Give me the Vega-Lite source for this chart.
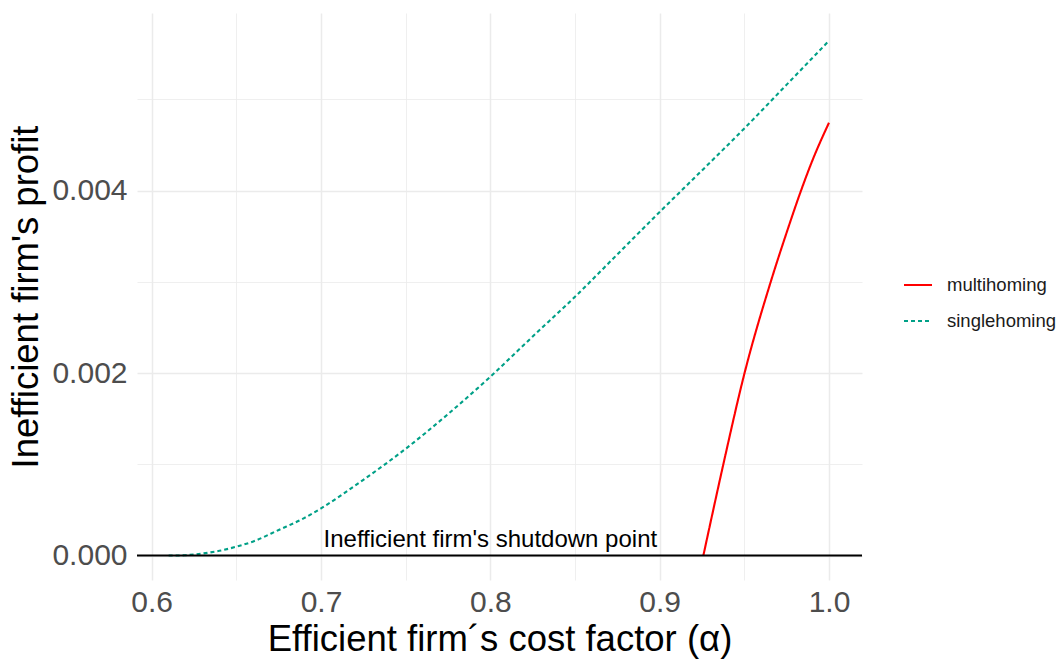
{
  "$schema": "https://vega.github.io/schema/vega-lite/v6.json",
  "width": 725,
  "height": 567,
  "autosize": {"type": "none"},
  "padding": {"left": 137, "top": 13, "right": 198, "bottom": 84},
  "background": "white",
  "config": {
    "font": "Liberation Sans",
    "view": {"stroke": null},
    "axis": {
      "domain": false,
      "ticks": false,
      "gridColor": "#EBEBEB",
      "labelColor": "#4D4D4D",
      "labelFontSize": 30,
      "titleFontSize": 36.5,
      "titleFontWeight": "normal",
      "titleColor": "#000000",
      "labelFont": "Liberation Sans",
      "titleFont": "Liberation Sans"
    },
    "legend": {
      "labelFont": "Liberation Sans",
      "labelFontSize": 18.5,
      "labelColor": "#1A1A1A"
    }
  },
  "datasets": {
    "curves": [
      {"alpha": 0.61, "profit": 0.0, "series": "singlehoming"},
      {"alpha": 0.615, "profit": 0.0, "series": "singlehoming"},
      {"alpha": 0.62, "profit": 0.000004, "series": "singlehoming"},
      {"alpha": 0.63, "profit": 0.000022, "series": "singlehoming"},
      {"alpha": 0.64, "profit": 0.000052, "series": "singlehoming"},
      {"alpha": 0.65, "profit": 0.000097, "series": "singlehoming"},
      {"alpha": 0.66, "profit": 0.000155, "series": "singlehoming"},
      {"alpha": 0.675, "profit": 0.00028, "series": "singlehoming"},
      {"alpha": 0.69, "profit": 0.00041, "series": "singlehoming"},
      {"alpha": 0.7, "profit": 0.000517, "series": "singlehoming"},
      {"alpha": 0.725, "profit": 0.00083, "series": "singlehoming"},
      {"alpha": 0.75, "profit": 0.00117, "series": "singlehoming"},
      {"alpha": 0.775, "profit": 0.00155, "series": "singlehoming"},
      {"alpha": 0.8, "profit": 0.00196, "series": "singlehoming"},
      {"alpha": 0.825, "profit": 0.0024, "series": "singlehoming"},
      {"alpha": 0.85, "profit": 0.002836, "series": "singlehoming"},
      {"alpha": 0.875, "profit": 0.0033, "series": "singlehoming"},
      {"alpha": 0.9, "profit": 0.003765, "series": "singlehoming"},
      {"alpha": 0.925, "profit": 0.00422, "series": "singlehoming"},
      {"alpha": 0.95, "profit": 0.00468, "series": "singlehoming"},
      {"alpha": 0.975, "profit": 0.00516, "series": "singlehoming"},
      {"alpha": 1.0, "profit": 0.005641, "series": "singlehoming"},
      {"alpha": 0.9258, "profit": 0.0, "series": "multihoming"},
      {"alpha": 0.93, "profit": 0.00036, "series": "multihoming"},
      {"alpha": 0.9376, "profit": 0.001, "series": "multihoming"},
      {"alpha": 0.95, "profit": 0.00199, "series": "multihoming"},
      {"alpha": 0.9656, "profit": 0.003, "series": "multihoming"},
      {"alpha": 0.975, "profit": 0.00354, "series": "multihoming"},
      {"alpha": 0.9835, "profit": 0.004, "series": "multihoming"},
      {"alpha": 0.99, "profit": 0.00432, "series": "multihoming"},
      {"alpha": 1.0, "profit": 0.004743, "series": "multihoming"}
    ],
    "note": [
      {"alpha": 0.8, "profit": 0.0, "label": "Inefficient firm's shutdown point"}
    ],
    "zero": [
      {"profit": 0.0}
    ]
  },
  "layer": [
    {
      "data": {"name": "curves"},
      "mark": {"type": "line", "strokeWidth": 2.1, "clip": true, "interpolate": "monotone"},
      "encoding": {
        "x": {
          "field": "alpha",
          "type": "quantitative",
          "scale": {"domain": [0.59132, 1.01949], "nice": false, "zero": false},
          "axis": {
            "title": "Efficient firm´s cost factor (α)",
            "values": [0.6, 0.65, 0.7, 0.75, 0.8, 0.85, 0.9, 0.95, 1.0],
            "labelExpr": "abs(datum.value*10 - round(datum.value*10)) < 0.001 ? format(datum.value, '.1f') : ''",
            "gridWidth": {"condition": {"test": "abs(datum.value*10 - round(datum.value*10)) < 0.001", "value": 1.5}, "value": 0.8},
            "labelPadding": 7,
            "titlePadding": 4
          }
        },
        "y": {
          "field": "profit",
          "type": "quantitative",
          "scale": {"domain": [-0.000268, 0.005945], "nice": false, "zero": false},
          "axis": {
            "title": "Inefficient firm's profit",
            "values": [0, 0.001, 0.002, 0.003, 0.004, 0.005],
            "labelExpr": "round(datum.value*1000) % 2 == 0 ? format(datum.value, '.3f') : ''",
            "gridWidth": {"condition": {"test": "round(datum.value*1000) % 2 == 0", "value": 1.5}, "value": 0.8},
            "labelPadding": 10,
            "titlePadding": 6
          }
        },
        "color": {
          "field": "series",
          "type": "nominal",
          "scale": {"domain": ["multihoming", "singlehoming"], "range": ["#FF0000", "#00A087"]},
          "legend": {
            "title": null,
            "orient": "none",
            "legendX": 766,
            "legendY": 257,
            "symbolType": "stroke",
            "symbolSize": 784,
            "symbolStrokeWidth": 2,
            "labelOffset": 14,
            "rowPadding": 11
          }
        },
        "strokeDash": {
          "field": "series",
          "type": "nominal",
          "scale": {"domain": ["multihoming", "singlehoming"], "range": [[1, 0], [4, 3]]},
          "legend": null
        }
      }
    },
    {
      "data": {"name": "zero"},
      "mark": {"type": "rule", "color": "#000000", "strokeWidth": 2},
      "encoding": {"y": {"field": "profit", "type": "quantitative"}}
    },
    {
      "data": {"name": "note"},
      "mark": {"type": "text", "fontSize": 24, "font": "Liberation Sans", "color": "#000000", "baseline": "alphabetic", "align": "center", "dy": -9},
      "encoding": {
        "x": {"field": "alpha", "type": "quantitative"},
        "y": {"field": "profit", "type": "quantitative"},
        "text": {"field": "label"}
      }
    }
  ]
}
